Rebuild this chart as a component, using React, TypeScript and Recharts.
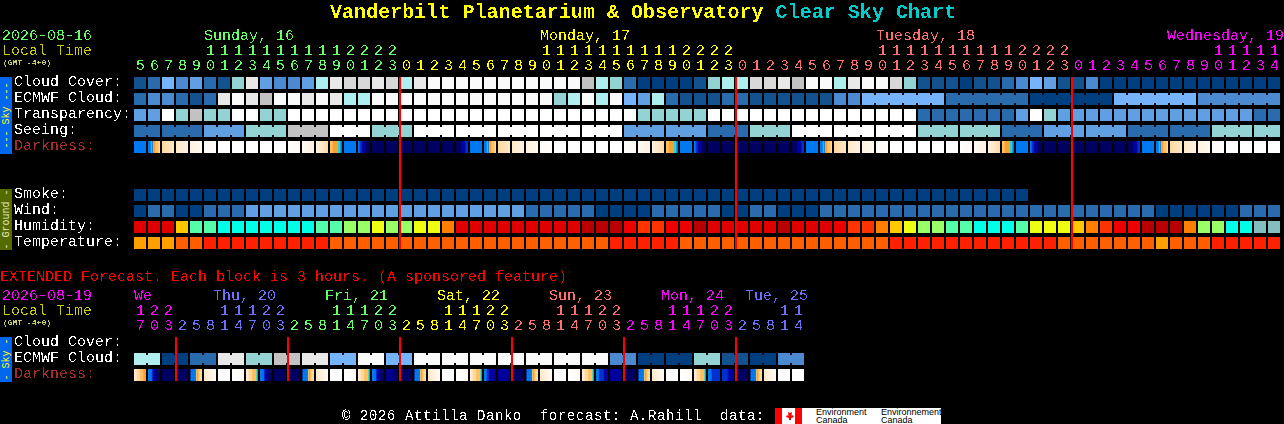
import { ScatterChart, Scatter, XAxis, YAxis } from 'recharts'

// block colour scales, index = level
const cloudScale = ['#003f7f', '#13528f', '#2a6bad', '#4b8ad0', '#609fe2', '#75b4fb', '#93d3d3', '#aeeeee', '#c2c2c2', '#d8d8d8', '#e8e8e8', '#fafafa', '#ffffff']
const humidityScale = ['#84bfbf', '#00ffe6', '#55ffaa', '#99ff66', '#eeff11', '#ffc800', '#ff8000', '#ff3300', '#ee0000', '#e00000', '#b80000']
const temperatureScale = ['#ff2000', '#ff5f00', '#ffa000']
const darknessScale = ['#000060', '#0000a0', '#0030d0', '#0078f0', '#00e0f0', '#ff9f30', '#ffc060', '#ffd8a0', '#ffe8c8', '#fff2e0', '#fffaf2', '#ffffff']

const hours = [5, 6, 7, 8, 9, 10, 11, 12, 13, 14, 15, 16, 17, 18, 19, 20, 21, 22, 23,
  0, 1, 2, 3, 4, 5, 6, 7, 8, 9, 10, 11, 12, 13, 14, 15, 16, 17, 18, 19, 20, 21, 22, 23,
  0, 1, 2, 3, 4, 5, 6, 7, 8, 9, 10, 11, 12, 13, 14, 15, 16, 17, 18, 19, 20, 21, 22, 23,
  0, 1, 2, 3, 4, 5, 6, 7, 8, 9, 10, 11, 12, 13, 14]
const extHours = [17, 20, 23, 2, 5, 8, 11, 14, 17, 20, 23, 2, 5, 8, 11, 14, 17, 20, 23, 2, 5, 8, 11, 14,
  17, 20, 23, 2, 5, 8, 11, 14, 17, 20, 23, 2, 5, 8, 11, 14, 17, 20, 23, 2, 5, 8, 11, 14]

const GREEN = '#66ff66'
const YELLOW = '#ffff00'
const SALMON = '#ff7070'
const MAGENTA = '#ff00ff'
const BLUE = '#7070ff'

const dayNames = ['Sunday, 16', 'Monday, 17', 'Tuesday, 18', 'Wednesday, 19']
const dayStarts = [5, 29, 53, 74]
const dayColors = [GREEN, YELLOW, SALMON, MAGENTA]
const dayEnds = [18, 42, 66, 81]

const extDayNames = ['We', 'Thu, 20', 'Fri, 21', 'Sat, 22', 'Sun, 23', 'Mon, 24', 'Tue, 25']
const extDayStarts = [0, 6, 14, 22, 30, 38, 44]
const extDayColors = [MAGENTA, BLUE, GREEN, YELLOW, SALMON, MAGENTA, BLUE]
const extDayEnds = [2, 10, 18, 26, 34, 42, 47]

const midnights = [19, 43, 67]
const extMidnights = [3, 11, 19, 27, 35, 43]

const rowLabels = ['Cloud Cover:', 'ECMWF Cloud:', 'Transparency:', 'Seeing:', 'Darkness:', 'Smoke:', 'Wind:', 'Humidity:', 'Temperature:']
const rowTicks = [0, 1, 2, 3, 4, 7, 8, 9, 10]
const extRowLabels = ['Cloud Cover:', 'ECMWF Cloud:', 'Darkness:']
const extRowTicks = [0, 1, 2]

const cloudCover = [1, 2, 5, 3, 4, 2, 1, 6, 10, 4, 3, 3, 4, 7, 10, 9, 9, 10, 9,
  7, 10, 11, 11, 11, 11, 11, 11, 11, 11, 11, 11, 11, 8, 7, 6, 2, 0, 0, 0, 0, 1, 6, 7,
  7, 9, 9, 10, 8, 11, 11, 7, 10, 11, 11, 9, 6, 1, 1, 1, 0, 1, 1, 2, 3, 5, 4, 1, 1, 3,
  0, 0, 0, 0, 0, 0, 0, 0, 0, 0, 0, 0, 0]
const ecmwf = [2, 3, 3, 2, 1, 2, 10, 11, 10, 8, 11, 11, 10, 11, 10, 7, 7, 11, 11,
  11, 11, 11, 11, 11, 11, 11, 11, 11, 11, 11, 6, 7, 11, 7, 11, 5, 4, 7, 2, 1, 1, 1, 2,
  2, 1, 1, 1, 1, 1, 1, 3, 3, 5, 2, 0, 5, 3]
const ecmwfSpans = [1, 1, 1, 1, 1, 1, 1, 1, 1, 1, 1, 1, 1, 1, 1, 1, 1, 1, 1,
  1, 1, 1, 1, 1, 1, 1, 1, 1, 1, 1, 1, 1, 1, 1, 1, 1, 1, 1, 1, 1, 1, 1, 1,
  1, 1, 1, 1, 1, 1, 1, 1, 1, 6, 6, 6, 6, 6]
const transparency = [4, 4, 12, 6, 8, 6, 6, 12, 12, 6, 6, 12, 12, 12, 12, 12, 12, 12, 12,
  12, 12, 12, 12, 12, 12, 12, 12, 12, 12, 12, 12, 12, 12, 12, 12, 12, 6, 6, 6, 6, 6, 12, 12,
  12, 12, 12, 12, 12, 12, 12, 12, 12, 12, 12, 12, 12, 2, 2, 2, 2, 2, 2, 2, 4, 12, 6, 4, 4, 4,
  4, 4, 4, 4, 4, 4, 4, 4, 4, 4, 4, 2, 2]
const seeing = [2, 2, 4, 6, 8, 12, 6, 12, 12, 12, 12, 12, 4, 4, 2, 6, 12, 12, 12, 6, 6, 2, 4, 4, 2, 2, 6, 6]
const seeingSpans = [2, 3, 3, 3, 3, 3, 3, 3, 3, 3, 3, 3, 3, 3, 3, 3, 3, 3, 3, 3, 3, 3, 3, 3, 3, 3, 3, 2]

const smoke = [0, 0, 0, 0, 0, 0, 0, 0, 0, 0, 0, 0, 0, 0, 0, 0, 0, 0, 0,
  0, 0, 0, 0, 0, 0, 0, 0, 0, 0, 0, 0, 0, 0, 0, 0, 0, 0, 0, 0, 0, 0, 0, 0,
  0, 0, 0, 0, 0, 0, 0, 0, 0, 0, 0, 0, 0, 0, 0, 0, 0, 0, 0, 0, 0]
const wind = [0, 2, 2, 0, 0, 2, 2, 2, 4, 4, 4, 4, 4, 4, 4, 4, 4, 4, 4,
  4, 4, 4, 4, 4, 4, 4, 4, 4, 2, 2, 2, 2, 2, 0, 0, 0, 0, 2, 2, 2, 2, 2, 0,
  0, 2, 2, 0, 0, 0, 2, 2, 2, 2, 2, 2, 2, 2, 2, 2, 2, 2, 2, 2, 2, 2, 2, 2,
  2, 2, 2, 2, 2, 2, 0, 0, 0, 0, 0, 0, 2, 2, 2]
const humidity = [9, 9, 9, 5, 2, 2, 1, 1, 1, 1, 1, 1, 1, 2, 2, 3, 3, 4, 3,
  3, 4, 4, 6, 9, 9, 9, 9, 9, 9, 9, 9, 9, 10, 10, 10, 8, 7, 7, 8, 8, 10, 9, 9,
  9, 9, 9, 10, 9, 9, 9, 8, 7, 7, 6, 5, 4, 3, 3, 2, 2, 1, 1, 1, 2, 4, 4, 4,
  5, 6, 7, 8, 8, 10, 10, 10, 6, 3, 3, 1, 1, 0, 0]
const temperature = [2, 2, 2, 1, 1, 0, 0, 0, 0, 0, 0, 0, 0, 0, 1, 1, 1, 1, 1,
  1, 1, 1, 1, 1, 1, 1, 1, 1, 1, 1, 1, 1, 1, 1, 0, 0, 0, 0, 0, 1, 1, 1, 1,
  1, 1, 1, 1, 1, 1, 1, 1, 1, 1, 1, 0, 0, 0, 0, 0, 0, 0, 0, 0, 0, 0, 0, 1,
  1, 1, 1, 1, 1, 1, 2, 1, 1, 1, 0, 0, 0, 0, 0]

// darkness changes inside a block, so each block is a short run of levels, left to right
const DAWN = [3, 3, 3, 4, 3, 5, 5, 6, 6, 6, 7, 7]
const DUSK = [6, 6, 6, 5, 5, 5, 5, 5, 4, 4, 3, 3]
const FALL = [3, 3, 2, 2, 1, 1, 1, 0, 0, 0, 0, 0]
const RISE = [0, 0, 0, 0, 0, 1, 1, 1, 1, 2, 2, 2]
const darkness = [[3], DAWN, [7, 8], [8, 9], [9, 10], [10, 11], [11], [11], [11], [11], [11], [11, 10], [10, 9], [9, 8, 7], DUSK, [3], FALL, [0], [0], [0], [0], [0], [0], RISE,
  [3], DAWN, [7, 8], [8, 9], [9, 10], [10, 11], [11], [11], [11], [11], [11], [11, 10], [10, 9], [9, 8, 7], DUSK, [3], FALL, [0], [0], [0], [0], [0], [0], RISE,
  [3], DAWN, [7, 8], [8, 9], [9, 10], [10, 11], [11], [11], [11], [11], [11], [11, 10], [10, 9], [9, 8, 7], DUSK, [3], FALL, [0], [0], [0], [0], [0], [0], RISE,
  [3], DAWN, [7, 8], [8, 9], [9, 10], [10, 11], [11], [11], [11], [11]]

const EVE = [8, 8, 8, 7, 7, 7, 6, 6, 6, 5, 5, 5]
const EVE_C = [9, 8, 8, 7, 7, 7, 6, 6, 6, 6, 4, 3]
const MORN = [0, 3, 3, 3, 3, 3, 6, 5, 6, 7, 7, 7]
const DOWN = [3, 3, 3, 3, 2, 1, 1, 1, 0, 0, 0, 0]
const extDarkness = [EVE, DOWN, [0], [0], MORN, [8, 9, 10], [11], [11, 10],
  EVE_C, DOWN, [0], [0], MORN, [8, 9, 10], [11], [11, 10],
  EVE_C, DOWN, [1, 0], [0], MORN, [8, 9, 10], [11], [11, 10],
  EVE_C, [3, 3, 3, 2, 2, 1, 1, 1, 1, 1, 1, 0], [1, 1, 1, 1, 0], [0], MORN, [8, 9, 10], [11], [11, 10],
  EVE_C, [3, 3, 3, 2, 2, 2, 2, 1, 1, 1, 1], [1, 1, 1, 1, 1, 0], [0], MORN, [8, 9, 10], [11], [11, 10],
  EVE_C, [3, 3, 3, 2, 2, 2, 2, 2, 2], [2, 2, 2, 1, 1, 1], [0], MORN, [8, 9, 10], [11], [11]]

const extEcmwf = [7, 0, 2, 10, 6, 8, 10, 5, 11, 5, 11, 11, 11, 11, 11, 11, 11, 3, 0, 0, 6, 1, 0, 3]
const extEcmwfSpans = [2, 2, 2, 2, 2, 2, 2, 2, 2, 2, 2, 2, 2, 2, 2, 2, 2, 2, 2, 2, 2, 2, 2, 2]

const MONO = '"Liberation Mono", monospace'
const BLOCK = 12
const PITCH = 14

type Cell = { x: number; y: number; fill?: string; runs?: string[]; join?: boolean; id: string }

function toCells(values: number[], row: number, scale: string[], spans?: number[]): Cell[] {
  const out: Cell[] = []
  let x = 0
  values.forEach((v, i) => {
    const n = spans ? spans[i] : 1
    for (let j = 0; j < n; j++) {
      out.push({ x, y: row, fill: scale[v], join: j < n - 1, id: `c${row}-${x}` })
      x++
    }
  })
  return out
}

function toRuns(values: number[][], row: number, scale: string[], key: string): Cell[] {
  return values.map((levels, i) => ({ x: i, y: row, runs: levels.map((l) => scale[l]), id: `${key}${i}` }))
}

function BlockShape(props: any) {
  const { cx, cy, payload } = props
  if (cx == null || cy == null) return null
  const p: Cell = payload
  if (p.runs && p.runs.length > 1) {
    return (
      <g>
        <defs>
          <linearGradient id={p.id} x1="0" x2="1" y1="0" y2="0">
            {p.runs.map((c, i) => (
              <stop key={i} offset={i / (p.runs!.length - 1)} stopColor={c} />
            ))}
          </linearGradient>
        </defs>
        <rect x={cx} y={cy} width={BLOCK} height={BLOCK} fill={`url(#${p.id})`} shapeRendering="crispEdges" />
      </g>
    )
  }
  const fill = p.runs ? p.runs[0] : p.fill
  return (
    <g shapeRendering="crispEdges">
      <rect x={cx} y={cy} width={BLOCK} height={BLOCK} fill={fill} />
      {p.join && <rect x={cx + BLOCK} y={cy + 2} width={PITCH - BLOCK} height={BLOCK - 4} fill={fill} />}
    </g>
  )
}

// red midnight marker, last series in each chart so it lies over the blocks
function makeMidnight(height: number) {
  return function Midnight(props: any) {
    const { cx, cy } = props
    if (cx == null || cy == null) return null
    return <rect x={cx - 1} y={cy} width={2} height={height} fill="#ff0000" shapeRendering="crispEdges" />
  }
}

function colorAt(i: number, ends: number[], colors: string[]) {
  const d = ends.findIndex((e) => i <= e)
  return colors[d < 0 ? colors.length - 1 : d]
}

const textStyle = { fontFamily: MONO, fontSize: 15, filter: 'url(#crisp)' }

function makeHourTick(values: number[], base: number, names: string[], starts: number[], colors: string[], ends: number[], nudge: Record<number, number>) {
  return function HourTick(props: any) {
    const { x, payload } = props
    const i = payload.value
    const h = values[i]
    const color = colorAt(i, ends, colors)
    const d = starts.indexOf(i)
    return (
      <g>
        {d >= 0 && (
          <text x={x + (nudge[d] || 0)} y={base - 30} fill={colors[d]} style={textStyle}>
            {names[d]}
          </text>
        )}
        {h >= 10 && (
          <text x={x + 2} y={base - 15} fill={color} style={textStyle}>
            {Math.floor(h / 10)}
          </text>
        )}
        <text x={x + 2} y={base} fill={color} style={textStyle}>
          {h % 10}
        </text>
      </g>
    )
  }
}

function makeRowTick(ticks: number[], labels: string[]) {
  return function RowTick(props: any) {
    const { y, payload } = props
    const label = labels[ticks.indexOf(payload.value)]
    return (
      <text x={14} y={y + 9} fill={label === 'Darkness:' ? '#a52a2a' : '#ffffff'} style={textStyle}>
        {label}
      </text>
    )
  }
}

const mainTicks = hours.map((_, i) => i)
const extTicks = extHours.map((_, i) => i)

function SideBar({ y, h, fill, color, word }: { y: number; h: number; fill: string; color: string; word: string }) {
  return (
    <g>
      <rect x={0} y={y} width={12} height={h} fill={fill} shapeRendering="crispEdges" />
      <text transform={`translate(9 ${y + h / 2}) rotate(-90)`} textAnchor="middle" fontFamily={MONO} fontSize={10} fill={color}>
        {word}
      </text>
    </g>
  )
}

export default function App() {
  return (
    <div style={{ position: 'absolute', left: 0, top: 0, width: 1284, height: 424, background: '#000', overflow: 'hidden' }}>
      <svg width={1284} height={424} style={{ position: 'absolute', left: 0, top: 0 }}>
        <defs>
          <filter id="crisp" x="-20%" y="-20%" width="140%" height="140%" colorInterpolationFilters="sRGB">
            <feComponentTransfer>
              <feFuncA type="discrete" tableValues="0 0 0 0 0 1 1 1 1" />
            </feComponentTransfer>
          </filter>
        </defs>
        <g fontFamily={MONO} filter="url(#crisp)">
          <text x={330} y={18} fontSize={20} fontWeight="bold" letterSpacing={0.04}>
            <tspan fill="#ffff00">Vanderbilt Planetarium &amp; Observatory </tspan>
            <tspan fill="#00cccc">Clear Sky Chart</tspan>
          </text>
          <text x={2} y={40} fontSize={15} fill={GREEN}>2026-08-16</text>
          <text x={2} y={55} fontSize={15} fill="#cccc00">Local Time</text>
          <text x={3} y={65} fontSize={8} fontWeight="bold" fill="#cccc66">(GMT -4+0)</text>
          <text x={0} y={281} fontSize={15} fill="#ff0000">EXTENDED Forecast. Each block is 3 hours. (A sponsored feature)</text>
          <text x={2} y={300} fontSize={15} fill={MAGENTA}>2026-08-19</text>
          <text x={2} y={315} fontSize={15} fill="#cccc00">Local Time</text>
          <text x={3} y={325} fontSize={8} fontWeight="bold" fill="#cccc66">(GMT -4+0)</text>
          <text x={342} y={419.5} fontSize={14} letterSpacing={0.6} fill="#ffffff">
            {'© 2026 Attilla Danko\u00a0\u00a0forecast: A.Rahill\u00a0\u00a0data:'}
          </text>
        </g>
        <SideBar y={77} h={77} fill="#0066ee" color="#ffff00" word="--- Sky ---" />
        <SideBar y={189} h={61} fill="#556b00" color="#e8e8c0" word="- Ground -" />
        <SideBar y={337} h={45} fill="#0066ee" color="#ffff00" word="- Sky -" />
        <rect x={775} y={408} width={166} height={16} fill="#ffffff" />
        <rect x={775} y={408} width={7} height={16} fill="#ff0000" />
        <rect x={795} y={408} width={7} height={16} fill="#ff0000" />
        <path d="M788.5 410 l1.5 3 2 -1 -0.5 4 1.5 -1 1 2 -3 1 0 2 -1 0 -1 0 0 -2 -3 -1 1 -2 1.5 1 -0.5 -4 2 1 z" fill="#ff0000" />
        <g fontFamily='"Liberation Sans", sans-serif' fontSize={9} fill="#000">
          <text x={816} y={415}>Environment</text>
          <text x={816} y={423}>Canada</text>
          <text x={881} y={415}>Environnement</text>
          <text x={881} y={423}>Canada</text>
        </g>
      </svg>

      <div style={{ position: 'absolute', left: 0, top: 0 }}>
        <ScatterChart width={1284} height={424} margin={{ top: 76, right: 2, bottom: 175, left: 133 }}>
          <XAxis
            type="number"
            dataKey="x"
            orientation="top"
            height={1}
            domain={[0, 82]}
            ticks={mainTicks}
            interval={0}
            axisLine={false}
            tickLine={false}
            tick={makeHourTick(hours, 70, dayNames, dayStarts, dayColors, dayEnds, { 3: -3 })}
          />
          <YAxis
            type="number"
            dataKey="y"
            reversed
            width={1}
            domain={[0, 10.75]}
            ticks={rowTicks}
            interval={0}
            axisLine={false}
            tickLine={false}
            tick={makeRowTick(rowTicks, rowLabels)}
          />
          <Scatter data={toCells(cloudCover, 0, cloudScale)} shape={BlockShape} isAnimationActive={false} />
          <Scatter data={toCells(ecmwf, 1, cloudScale, ecmwfSpans)} shape={BlockShape} isAnimationActive={false} />
          <Scatter data={toCells(transparency, 2, cloudScale)} shape={BlockShape} isAnimationActive={false} />
          <Scatter data={toCells(seeing, 3, cloudScale, seeingSpans)} shape={BlockShape} isAnimationActive={false} />
          <Scatter data={toRuns(darkness, 4, darknessScale, 'dk')} shape={BlockShape} isAnimationActive={false} />
          <Scatter data={toCells(smoke, 7, cloudScale)} shape={BlockShape} isAnimationActive={false} />
          <Scatter data={toCells(wind, 8, cloudScale)} shape={BlockShape} isAnimationActive={false} />
          <Scatter data={toCells(humidity, 9, humidityScale)} shape={BlockShape} isAnimationActive={false} />
          <Scatter data={toCells(temperature, 10, temperatureScale)} shape={BlockShape} isAnimationActive={false} />
          <Scatter data={midnights.map((m) => ({ x: m, y: 0 }))} shape={makeMidnight(172)} isAnimationActive={false} />
        </ScatterChart>
      </div>

      <div style={{ position: 'absolute', left: 0, top: 0 }}>
        <ScatterChart width={1284} height={424} margin={{ top: 336, right: 478, bottom: 43, left: 133 }}>
          <XAxis
            type="number"
            dataKey="x"
            orientation="top"
            height={1}
            domain={[0, 48]}
            ticks={extTicks}
            interval={0}
            axisLine={false}
            tickLine={false}
            tick={makeHourTick(extHours, 330, extDayNames, extDayStarts, extDayColors, extDayEnds, { 1: -5, 2: -5, 3: -5, 4: -5, 5: -5, 6: -5 })}
          />
          <YAxis
            type="number"
            dataKey="y"
            reversed
            width={1}
            domain={[0, 2.75]}
            ticks={extRowTicks}
            interval={0}
            axisLine={false}
            tickLine={false}
            tick={makeRowTick(extRowTicks, extRowLabels)}
          />
          <Scatter data={toCells(extEcmwf, 1, cloudScale, extEcmwfSpans)} shape={BlockShape} isAnimationActive={false} />
          <Scatter data={toRuns(extDarkness, 2, darknessScale, 'xd')} shape={BlockShape} isAnimationActive={false} />
          <Scatter data={extMidnights.map((m) => ({ x: m, y: 0 }))} shape={makeMidnight(44)} isAnimationActive={false} />
        </ScatterChart>
      </div>
    </div>
  )
}
